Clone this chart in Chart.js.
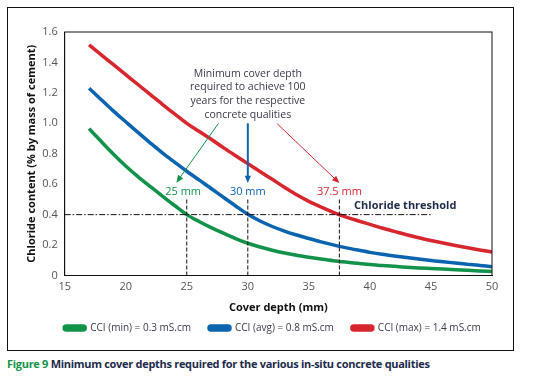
<!DOCTYPE html>
<html>
<head>
<meta charset="utf-8">
<script src="https://cdn.jsdelivr.net/npm/chart.js@4.4.1/dist/chart.umd.min.js"></script>
<style>
  body { margin: 0; background: #fff; font-family: "Open Sans", sans-serif; }
  #box { position: absolute; left: 7px; top: 7px; width: 505px; height: 342px; border: 1.5px solid #111; }
  #caption { position: absolute; left: 7px; top: 356px; font-size: 11px; font-weight: bold; color: #1d2a4a; white-space: nowrap; letter-spacing: -0.3px; }
  #caption span { color: #12924a; }
</style>
</head>
<body>
<div id="box"><canvas id="chart" width="505" height="342"></canvas></div>
<div id="caption"><span>Figure 9</span> Minimum cover depths required for the various in-situ concrete qualities</div>
<script>
// cover depth (mm)
const coverDepth = [17, 18, 19, 20, 21, 22, 23, 24, 25, 26, 27, 28, 29, 30, 31, 32, 33,
  34, 35, 36, 37, 38, 39, 40, 41, 42, 43, 44, 45, 46, 47, 48, 49, 50];

// chloride content (% by mass of cement)
const cciMin = [0.965, 0.88, 0.797, 0.72, 0.65, 0.585, 0.522, 0.46, 0.40, 0.355, 0.315, 0.278, 0.243,
  0.212, 0.187, 0.166, 0.148, 0.133, 0.12, 0.108, 0.097, 0.088, 0.08, 0.072, 0.066, 0.06, 0.055,
  0.05, 0.046, 0.042, 0.038, 0.034, 0.03, 0.027];
const cciAvg = [1.23, 1.155, 1.08, 1.01, 0.94, 0.872, 0.806, 0.745, 0.685, 0.628, 0.572, 0.514, 0.457,
  0.402, 0.358, 0.322, 0.292, 0.266, 0.243, 0.221, 0.201, 0.183, 0.167, 0.152, 0.139, 0.128, 0.118,
  0.108, 0.099, 0.09, 0.082, 0.074, 0.066, 0.058];
const cciMax = [1.515, 1.45, 1.385, 1.32, 1.255, 1.19, 1.125, 1.062, 1.0, 0.948, 0.895, 0.84, 0.787,
  0.735, 0.683, 0.632, 0.58, 0.53, 0.487, 0.45, 0.415, 0.385, 0.36, 0.336, 0.312, 0.29, 0.268,
  0.248, 0.23, 0.213, 0.197, 0.182, 0.168, 0.155];

const seriesNames = ['CCI (min) = 0.3 mS.cm', 'CCI (avg) = 0.8 mS.cm', 'CCI (max) = 1.4 mS.cm'];
const seriesColors = ['#12924a', '#0b64b0', '#d8262e'];

const threshold = 0.4;
const thresholdEnd = 45;
const requiredDepths = [25, 30, 37.5];
const depthLabels = ['25 mm', '30 mm', '37.5 mm'];
const noteLines = ['Minimum cover depth', 'required to achieve 100', 'years for the respective', 'concrete qualities'];

const toPoints = ys => ys.map((y, i) => ({ x: coverDepth[i], y: y }));

// threshold lines, arrows and labels
const notesPlugin = {
  id: 'notes',
  afterLayout(chart) {
    // legend sits under the plot, not the whole box
    chart.legend.left += 14;
    chart.legend.right += 14;
  },
  afterDatasetsDraw(chart) {
    const { ctx, chartArea, scales: { x, y } } = chart;
    ctx.save();

    // frame round the plot
    ctx.strokeStyle = '#111';
    ctx.lineWidth = 1;
    ctx.strokeRect(chartArea.left, chartArea.top, chartArea.width, chartArea.height);

    // chloride threshold
    ctx.setLineDash([6, 2, 1.5, 2]);
    ctx.beginPath();
    ctx.moveTo(x.getPixelForValue(15), y.getPixelForValue(threshold));
    ctx.lineTo(x.getPixelForValue(thresholdEnd), y.getPixelForValue(threshold));
    ctx.stroke();
    ctx.setLineDash([4, 2]);
    requiredDepths.forEach(d => {
      ctx.beginPath();
      ctx.moveTo(x.getPixelForValue(d), y.getPixelForValue(0));
      ctx.lineTo(x.getPixelForValue(d), y.getPixelForValue(0.5));
      ctx.stroke();
    });
    ctx.setLineDash([]);

    ctx.font = '11px "Open Sans"';
    ctx.textAlign = 'center';
    ctx.textBaseline = 'middle';
    depthLabels.forEach((t, i) => {
      ctx.fillStyle = seriesColors[i];
      ctx.fillText(t, x.getPixelForValue(requiredDepths[i] - 0.3 * (i === 0)), y.getPixelForValue(0.55));
    });
    ctx.fillStyle = '#1d2a4a';
    ctx.font = 'bold 11px "Open Sans"';
    ctx.textAlign = 'left';
    ctx.fillText('Chloride threshold', x.getPixelForValue(38.7), y.getPixelForValue(0.455));

    ctx.fillStyle = '#3a3a4a';
    ctx.font = '10.5px "Open Sans"';
    ctx.textAlign = 'center';
    noteLines.forEach((t, i) => {
      ctx.fillText(t, x.getPixelForValue(30), y.getPixelForValue(1.327 - i * 0.09));
    });

    const arrow = (x0, y0, x1, y1, color, w, head) => {
      const px0 = x.getPixelForValue(x0), py0 = y.getPixelForValue(y0);
      const px1 = x.getPixelForValue(x1), py1 = y.getPixelForValue(y1);
      const a = Math.atan2(py1 - py0, px1 - px0);
      ctx.strokeStyle = color;
      ctx.fillStyle = color;
      ctx.lineWidth = w;
      ctx.beginPath();
      ctx.moveTo(px0, py0);
      ctx.lineTo(px1 - Math.cos(a) * head * 0.8, py1 - Math.sin(a) * head * 0.8);
      ctx.stroke();
      ctx.beginPath();
      ctx.moveTo(px1, py1);
      ctx.lineTo(px1 - head * Math.cos(a - 0.4), py1 - head * Math.sin(a - 0.4));
      ctx.lineTo(px1 - head * Math.cos(a + 0.4), py1 - head * Math.sin(a + 0.4));
      ctx.closePath();
      ctx.fill();
    };
    arrow(27.6, 1.0, 24.15, 0.61, seriesColors[0], 1, 8);
    arrow(30, 1.0, 30, 0.607, seriesColors[1], 2, 8);
    arrow(32.4, 0.998, 37.5, 0.607, seriesColors[2], 1, 8);

    ctx.restore();
  }
};

new Chart(document.getElementById('chart'), {
  type: 'line',
  data: {
    datasets: [cciMin, cciAvg, cciMax].map((s, i) => ({
      label: seriesNames[i],
      data: toPoints(s),
      borderColor: seriesColors[i],
      backgroundColor: seriesColors[i],
      borderWidth: 3.5,
      pointRadius: 0,
      cubicInterpolationMode: 'monotone'
    }))
  },
  options: {
    animation: false,
    responsive: false,
    layout: { padding: { left: 17, right: 21, top: 24, bottom: 7 } },
    plugins: {
      tooltip: { enabled: false },
      legend: {
        position: 'bottom',
        labels: {
          color: '#3a3a4a',
          font: { family: 'Open Sans', size: 10 },
          boxWidth: 21,
          boxHeight: 4,
          useBorderRadius: true,
          borderRadius: 2,
          padding: 18
        }
      }
    },
    scales: {
      x: {
        type: 'linear',
        min: 15,
        max: 50,
        grid: { display: false, drawTicks: true, tickLength: 4, color: '#111' },
        border: { color: '#111', width: 1 },
        ticks: { stepSize: 5, color: '#555', font: { family: 'Open Sans', size: 11 }, padding: 1 },
        title: { display: true, text: 'Cover depth (mm)', color: '#111', font: { family: 'Open Sans', size: 11, weight: 'bold' }, padding: { top: 2, bottom: -9 } },
        afterFit: s => { s.height = 29.5; }
      },
      y: {
        min: 0,
        max: 1.6,
        grid: { display: false, drawTicks: true, tickLength: 4, color: '#111' },
        border: { color: '#111', width: 1 },
        ticks: {
          stepSize: 0.2,
          color: '#555',
          font: { family: 'Open Sans', size: 11 },
          padding: 3,
          callback: v => v === 0 ? '0' : v.toFixed(1)
        },
        title: { display: true, text: 'Chloride content (% by mass of cement)', color: '#111', font: { family: 'Open Sans', size: 11, weight: 'bold' }, padding: { top: 0, bottom: 1 } }
      }
    }
  },
  plugins: [notesPlugin]
});
</script>
</body>
</html>
